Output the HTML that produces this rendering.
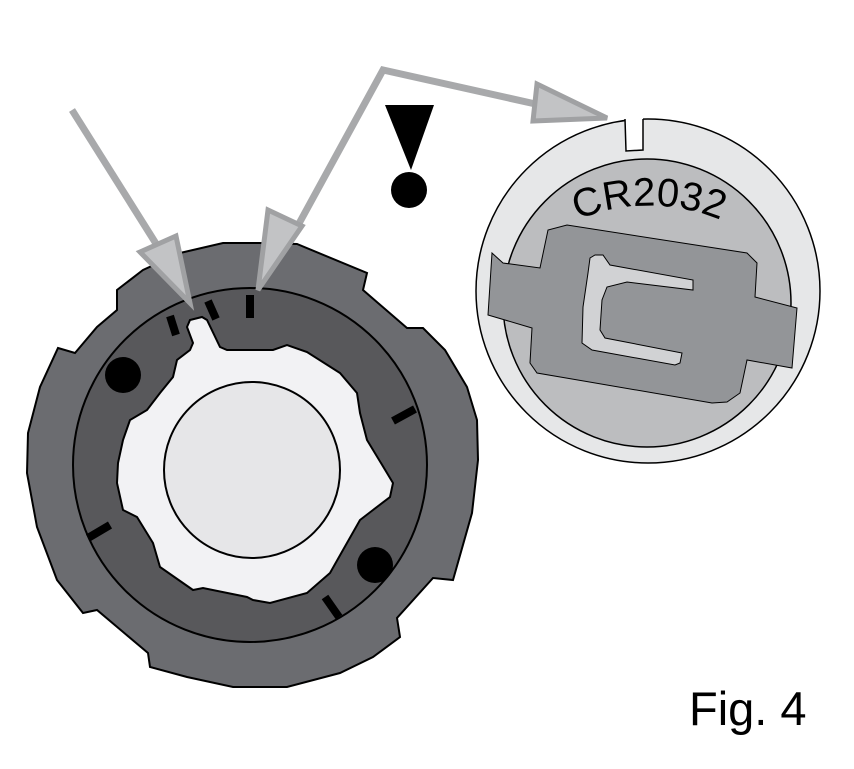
<!DOCTYPE html>
<html><head><style>html,body{margin:0;padding:0;background:#fff}svg{display:block}</style></head>
<body>
<svg width="854" height="769" viewBox="0 0 854 769" xmlns="http://www.w3.org/2000/svg">
<polygon points="180,253 223,243 260,243 297,244 367,273 363,290 407,328 423,328 445,350 467,387 477,420 478,460 472,513 453,580 433,578 397,618 400,637 373,657 340,673 287,687 233,687 187,677 150,667 148,653 97,610 83,613 57,580 37,527 27,473 28,433 40,387 58,348 75,353 97,327 117,310 117,290 143,270" fill="#6b6c70" stroke="#000" stroke-width="2"/>
<circle cx="250" cy="465" r="177" fill="#58585b" stroke="#000" stroke-width="2"/>
<polygon points="187,327 190,320 202,317 207,320 220,347 227,350 273,350 287,345 307,352 340,373 357,393 360,413 367,440 387,473 393,483 390,497 373,510 360,520 343,550 330,573 307,593 270,603 253,600 247,597 203,588 193,590 160,567 153,543 137,517 123,510 117,483 118,463 123,440 130,420 147,410 160,393 173,377 177,360 190,350 193,343" fill="#f2f2f4" stroke="#000" stroke-width="2"/>
<circle cx="252" cy="470" r="88" fill="#e6e6e8" stroke="#000" stroke-width="2"/>
<g stroke="#000" stroke-width="8">
<line x1="250" y1="295" x2="250" y2="318"/>
<line x1="170" y1="316" x2="176" y2="335"/>
<line x1="208" y1="301" x2="216" y2="319"/>
<line x1="393" y1="421" x2="415" y2="409"/>
<line x1="88" y1="538" x2="110" y2="525"/>
<line x1="325" y1="597" x2="339" y2="617"/>
</g>
<circle cx="123" cy="375" r="18" fill="#000"/>
<circle cx="375" cy="565" r="18" fill="#000"/>
<g stroke="#a8a9ab" stroke-width="7" fill="none">
<line x1="72" y1="110" x2="160" y2="250"/>
<polyline points="290,240 383,70 540,105"/>
</g>
<g fill="#c2c3c5" stroke="#a0a1a3" stroke-width="5" stroke-linejoin="miter">
<polygon points="140,252 176,236 190,303"/>
<polygon points="268,210 302,226 258,290"/>
<polygon points="537,84 533,121 607,118"/>
</g>
<polygon points="385,105 434,105 411,170" fill="#000"/>
<circle cx="409" cy="190" r="18" fill="#000"/>
<circle cx="648" cy="291" r="172" fill="#e6e7e8" stroke="#000" stroke-width="1.5"/>
<path d="M625,118 L625,151 L643,151 L643,118 Z" fill="#fff"/>
<path d="M625,119 L626,151 L643,150 L643,119" fill="none" stroke="#000" stroke-width="1.5"/>
<circle cx="647" cy="303" r="144" fill="#bcbdbf" stroke="#000" stroke-width="1.5"/>
<polygon points="492,253 503,263 540,268 548,230 567,225 747,253 757,263 755,297 797,308 792,368 747,360 740,393 727,402 712,403 537,373 530,363 532,328 488,315" fill="#939598" stroke="#000" stroke-width="1"/>
<polygon points="590,258 595,255 603,255 610,265 693,280 693,290 627,282 607,287 602,300 600,330 605,338 682,353 680,363 675,365 592,350 582,343 583,307 588,273" fill="#d1d2d4" stroke="#000" stroke-width="1"/>
<defs><path id="arc" d="M549,235 A185,185 0 0 1 749,235"/></defs>
<text font-family="Liberation Sans, sans-serif" font-size="40" fill="#000"><textPath href="#arc" startOffset="50%" text-anchor="middle">CR2032</textPath></text>
<text x="689" y="725" font-family="Liberation Sans, sans-serif" font-size="47" fill="#000">Fig. 4</text>
</svg>
</body></html>
